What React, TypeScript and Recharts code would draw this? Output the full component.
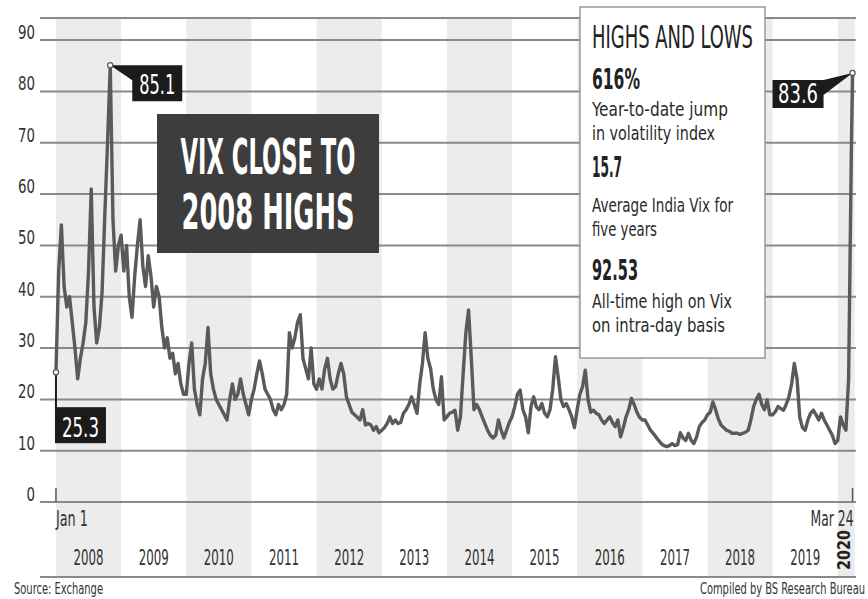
import React from 'react';
import {
  LineChart,
  Line,
  XAxis,
  YAxis,
  CartesianGrid,
  ReferenceArea,
  ReferenceDot,
} from 'recharts';

const FONT =
  "'Liberation Sans Narrow', 'DejaVu Sans Condensed', 'Roboto Condensed', Roboto, 'Liberation Sans', sans-serif";

// ---- data (India VIX, half-monthly readings, Jan 2008 – Mar 24, 2020) ----
const years = [2008, 2009, 2010, 2011, 2012, 2013, 2014, 2015, 2016, 2017, 2018, 2019, 2020];

const vix2008 = [25.3, 45, 54, 42, 38, 40, 35, 30, 24, 28, 31, 35, 45, 61, 38, 31, 34, 41, 56, 70, 85.1, 55, 45, 50];
const vix2009 = [52, 45, 50, 40, 36, 44, 50, 55, 46, 42, 48, 44, 38, 42, 40, 34, 30, 32, 28, 29, 25, 27, 23, 21];
const vix2010 = [21, 27, 31, 22, 19, 17, 24, 27, 34, 25, 22, 20, 19, 18, 17, 16, 20, 23, 20, 21, 24, 21, 19, 17];
const vix2011 = [20, 22, 25, 27.5, 25, 22, 21, 20, 18, 17, 19, 18, 19, 21, 33, 30, 32, 35, 36.5, 28, 26, 24, 30, 23];
const vix2012 = [22, 24, 22, 26, 28, 24, 22, 22.5, 25, 27, 25, 20.5, 19, 17.5, 17, 16.5, 16, 18, 15, 15.3, 15, 14, 14.7, 13.5];
const vix2013 = [14, 14.5, 15.3, 16.6, 15.3, 16, 15.3, 15.5, 17.3, 18, 19, 20.5, 19, 17.3, 23, 27, 33, 28, 26, 22, 20, 19, 24.4, 16];
const vix2014 = [16.6, 17.3, 17.5, 17.9, 14, 16.6, 25, 33, 37.4, 28, 18, 19, 18, 16.6, 15.3, 14, 13, 12.5, 13, 16, 14, 12.5, 14, 15.5];
const vix2015 = [16.6, 18.6, 21, 21.8, 18, 16.6, 13.5, 18.6, 20.5, 18.5, 18, 19.2, 17.3, 16.6, 18, 22, 28.3, 24.4, 20, 18.6, 19.2, 18, 16.6, 14.5];
const vix2016 = [18, 21, 22.5, 25.7, 20, 17.5, 17.9, 17.3, 17, 16, 15.3, 16, 16.6, 15.5, 14.7, 16, 12.7, 14.5, 16.6, 18, 20.2, 19, 17.5, 16.5];
const vix2017 = [16, 16, 15, 14, 13.4, 12.7, 12, 11.4, 11, 10.8, 11, 11.4, 11, 11.2, 13.5, 12.5, 12, 13.4, 12, 11.4, 12.7, 14.7, 15.5, 16];
const vix2018 = [17, 17.5, 19.5, 18, 16.2, 15, 14.5, 14, 13.8, 13.4, 13.4, 13.4, 13.2, 13.4, 13.6, 14, 16, 18.6, 20, 21, 19, 18, 19.9, 17];
const vix2019 = [17, 17.6, 18.6, 18.2, 17.9, 19, 20.5, 23, 27, 24, 16.5, 14.5, 14, 16, 17.3, 17.9, 17, 16, 17.3, 16, 15, 14, 13, 11.4];
const vix2020 = [12, 16.6, 15, 14, 24, 68];

const lastDate = 2020.227; // Mar 24, 2020
const lastValue = 83.6;

const yTicks = [0, 10, 20, 30, 40, 50, 60, 70, 80, 90];

const infoTitle = 'HIGHS AND LOWS';
const infoStats = [
  { value: '616%', lines: ['Year-to-date jump', 'in volatility index'] },
  { value: '15.7', lines: ['Average India Vix for', 'five years'] },
  { value: '92.53', lines: ['All-time high on Vix', 'on intra-day basis'] },
];
const chartTitle = ['VIX CLOSE TO', '2008 HIGHS'];

// ---- build the table for recharts ----
const yearSeries = [vix2008, vix2009, vix2010, vix2011, vix2012, vix2013, vix2014, vix2015, vix2016, vix2017, vix2018, vix2019, vix2020];
const data: { t: number; v: number }[] = [];
yearSeries.forEach((arr, yi) => arr.forEach((v, k) => data.push({ t: years[yi] + k / 24, v })));
data.push({ t: lastDate, v: lastValue });

const first = data[0];
const last = data[data.length - 1];
const peak = data.filter((d) => d.t < 2009).reduce((a, b) => (b.v > a.v ? b : a));

const X_DOMAIN: [number, number] = [2007.755, 2020.28];
const Y_DOMAIN: [number, number] = [-14.6, 94.3];
const BAND_END = 2020.26;

// ---- helpers ----
const CText = ({ x, y, size, w, anchor = 'start', weight = 400, fill = '#2a2a2a', children, transform }: any) => (
  <text
    x={x}
    y={y}
    fontSize={size}
    fontWeight={weight}
    textAnchor={anchor}
    fill={fill}
    fontFamily={FONT}
    textLength={w}
    lengthAdjust="spacingAndGlyphs"
    transform={transform}
  >
    {children}
  </text>
);

const YTick = (props: any) => {
  const { x, y, payload } = props;
  const s = String(payload.value);
  return (
    <CText x={x} y={y - 1} size={19} w={s.length * 8.5} anchor="end" fill="#333">
      {s}
    </CText>
  );
};

const YearLabel = (props: any) => {
  const { viewBox, text, bold } = props;
  if (!viewBox) return null;
  const cx = viewBox.x + viewBox.width / 2;
  const bottom = viewBox.y + viewBox.height;
  if (bold) {
    return (
      <CText
        x={0}
        y={0}
        size={17}
        w={40}
        weight={700}
        anchor="middle"
        fill="#222"
        transform={`translate(${cx + 4},${bottom - 27}) rotate(-90)`}
      >
        {text}
      </CText>
    );
  }
  return (
    <CText x={cx} y={bottom - 12} size={22} w={30} anchor="middle" fill="#333">
      {text}
    </CText>
  );
};

const Marker = ({ cx, cy }: any) => <circle cx={cx} cy={cy} r={2.6} fill="#fff" stroke="#555" strokeWidth={1.2} />;

const PeakFlag = (props: any) => {
  const { cx, cy } = props;
  return (
    <g>
      <path
        d={`M${cx},${cy} L${cx + 72},${cy} L${cx + 72},${cy + 36} L${cx + 22},${cy + 36} L${cx + 22},${cy + 15} Z`}
        fill="#1b1b1b"
      />
      <Marker cx={cx} cy={cy} />
      <CText x={cx + 47} y={cy + 29} size={27} w={36} anchor="middle" fill="#fff">
        {String(peak.v)}
      </CText>
    </g>
  );
};

const StartFlag = (props: any) => {
  const { cx, cy } = props;
  return (
    <g>
      <line x1={cx} y1={cy} x2={cx} y2={cy + 36} stroke="#1b1b1b" strokeWidth={2} />
      <rect x={cx - 1} y={cy + 35} width={51} height={36} fill="#1b1b1b" />
      <Marker cx={cx} cy={cy} />
      <CText x={cx + 24.5} y={cy + 65} size={27} w={37} anchor="middle" fill="#fff">
        {String(first.v)}
      </CText>
    </g>
  );
};

const EndFlag = (props: any) => {
  const { cx, cy } = props;
  return (
    <g>
      <path
        d={`M${cx},${cy} L${cx - 29},${cy + 7} L${cx - 80},${cy + 7} L${cx - 80},${cy + 35} L${cx - 29},${cy + 35} L${cx - 29},${cy + 22} Z`}
        fill="#1b1b1b"
      />
      <Marker cx={cx} cy={cy} />
      <CText x={cx - 54.5} y={cy + 30} size={26} w={40} anchor="middle" fill="#fff">
        {String(last.v)}
      </CText>
    </g>
  );
};

const makeTick = (label: string, anchor: 'start' | 'end', w: number) => (props: any) => {
  const { cx, cy } = props;
  return (
    <g>
      <line x1={cx} y1={cy} x2={cx} y2={cy - 14} stroke="#555" strokeWidth={1.5} />
      <CText x={anchor === 'start' ? cx : cx + 1} y={cy + 24} size={21} w={w} anchor={anchor} fill="#333">
        {label}
      </CText>
    </g>
  );
};
const JanTick = makeTick('Jan 1', 'start', 32);
const MarTick = makeTick('Mar 24', 'end', 43);

export default function App() {
  return (
    <div style={{ position: 'absolute', left: 0, top: 0, width: 868, height: 599, background: '#fff' }}>
      <LineChart
        width={868}
        height={599}
        data={data}
        margin={{ top: 18, right: 12, bottom: 22, left: 0 }}
        style={{ fontFamily: FONT }}
      >
        {years.map((y, i) => (
          <ReferenceArea
            key={y}
            x1={y}
            x2={Math.min(y + 1, BAND_END)}
            y1={Y_DOMAIN[0]}
            y2={Y_DOMAIN[1]}
            fill={i % 2 === 0 ? '#ececec' : '#ffffff'}
            fillOpacity={i % 2 === 0 ? 1 : 0}
            stroke="none"
            ifOverflow="hidden"
            zIndex={-150}
            label={<YearLabel text={String(y)} bold={y === 2020} />}
          />
        ))}
        <CartesianGrid vertical={false} stroke="#8a8a8a" strokeWidth={2} />
        <XAxis type="number" dataKey="t" domain={X_DOMAIN} hide allowDataOverflow />
        <YAxis
          type="number"
          domain={Y_DOMAIN}
          ticks={yTicks}
          interval={0}
          width={40}
          axisLine={false}
          tickLine={false}
          tickSize={0}
          tickMargin={5}
          tick={<YTick />}
          allowDataOverflow
        />
        <Line
          type="linear"
          dataKey="v"
          stroke="#5a5a5a"
          strokeWidth={3.4}
          strokeLinejoin="round"
          dot={false}
          activeDot={false}
          isAnimationActive={false}
        />
        <ReferenceDot x={first.t} y={0} r={0} shape={JanTick} />
        <ReferenceDot x={last.t} y={0} r={0} shape={MarTick} />
        <ReferenceDot x={first.t} y={first.v} r={3} shape={StartFlag} />
        <ReferenceDot x={peak.t} y={peak.v} r={3} shape={PeakFlag} />
        <ReferenceDot x={last.t} y={last.v} r={3} shape={EndFlag} />
      </LineChart>

      <svg
        width={868}
        height={599}
        style={{ position: 'absolute', left: 0, top: 0, pointerEvents: 'none' }}
      >
        {/* title box */}
        <rect x={157} y={114} width={222} height={139} fill="#3d3d3d" />
        <CText x={268} y={174} size={50} w={175} weight={600} anchor="middle" fill="#fff">
          {chartTitle[0]}
        </CText>
        <CText x={268} y={229} size={50} w={173} weight={600} anchor="middle" fill="#fff">
          {chartTitle[1]}
        </CText>

        {/* info box */}
        <rect x={580} y={7} width={185} height={351} fill="#fff" stroke="#999" strokeWidth={1.5} />
        <CText x={592} y={48} size={32} w={161} fill="#222">
          {infoTitle}
        </CText>
        <CText x={592} y={89} size={28} w={48} weight={700} fill="#222">
          {infoStats[0].value}
        </CText>
        <CText x={592} y={116} size={20} w={136} fill="#2a2a2a">
          {infoStats[0].lines[0]}
        </CText>
        <CText x={592} y={140} size={20} w={123} fill="#2a2a2a">
          {infoStats[0].lines[1]}
        </CText>
        <CText x={592} y={177} size={28} w={30} weight={700} fill="#222">
          {infoStats[1].value}
        </CText>
        <CText x={592} y={212} size={20} w={141} fill="#2a2a2a">
          {infoStats[1].lines[0]}
        </CText>
        <CText x={592} y={236} size={20} w={65} fill="#2a2a2a">
          {infoStats[1].lines[1]}
        </CText>
        <CText x={592} y={280} size={28} w={46} weight={700} fill="#222">
          {infoStats[2].value}
        </CText>
        <CText x={592} y={308} size={20} w={140} fill="#2a2a2a">
          {infoStats[2].lines[0]}
        </CText>
        <CText x={592} y={332} size={20} w={133} fill="#2a2a2a">
          {infoStats[2].lines[1]}
        </CText>

        {/* footer */}
        <CText x={14} y={594} size={15} w={89} fill="#333">
          Source: Exchange
        </CText>
        <CText x={865} y={594} size={15} w={165} anchor="end" fill="#333">
          Compiled by BS Research Bureau
        </CText>
      </svg>
    </div>
  );
}
